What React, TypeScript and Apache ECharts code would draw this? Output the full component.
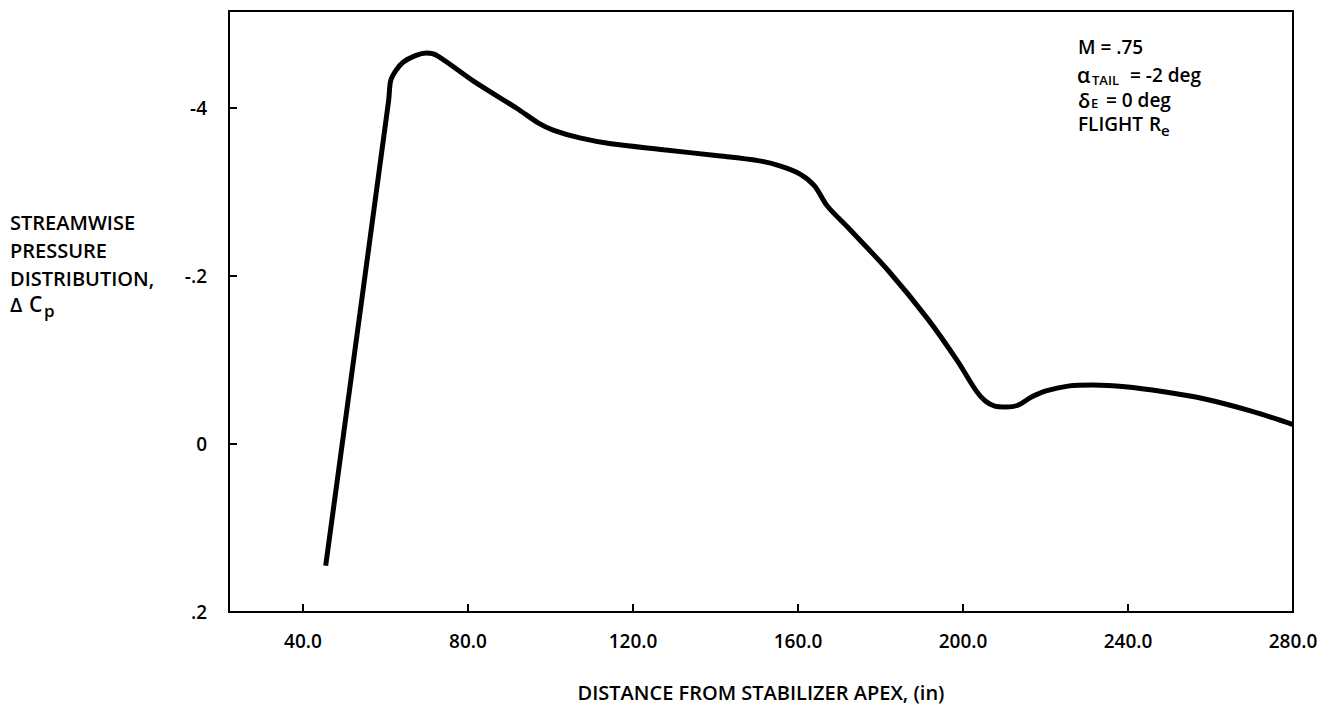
import React, { useEffect, useRef } from "react";
import * as echarts from "echarts";

// Distance from stabilizer apex (in)
const xValues = [
  45.5, 60.75, 61.25, 62.5, 64.25, 67.25, 70.0, 72.5, 81.8, 91.9, 97.0, 100.8,
  107.1, 114.7, 127.4, 140.1, 150.3, 155.4, 160.5, 164.0, 167.1, 172.4, 181.9,
  191.4, 198.6, 203.2, 205.4, 207.7, 210.4, 213.3, 216.7, 220.1, 225.8, 231.4,
  239.3, 248.7, 258.1, 269.9, 280.0,
];
// Streamwise pressure distribution, delta Cp
const cpValues = [
  0.145, -0.408, -0.432, -0.444, -0.454, -0.462, -0.465, -0.462, -0.43, -0.399,
  -0.382, -0.373, -0.364, -0.357, -0.35, -0.343, -0.337, -0.331, -0.321, -0.307,
  -0.283, -0.256, -0.206, -0.149, -0.099, -0.063, -0.051, -0.045, -0.044,
  -0.046, -0.056, -0.063, -0.069, -0.07, -0.068, -0.062, -0.054, -0.039, -0.023,
];
const xTicks = [40, 80, 120, 160, 200, 240, 280];
const yTicks = [-0.4, -0.2, 0, 0.2];
const yTickLabels: Record<string, string> = {
  "-0.4": "-4",
  "-0.2": "-.2",
  "0": "0",
  "0.2": ".2",
};

const FONT = "Open Sans";

export default function App() {
  const ref = useRef<HTMLDivElement>(null);
  useEffect(() => {
    if (!ref.current) return;
    const chart = echarts.init(ref.current, null, { renderer: "svg" });
    const data = xValues.map((x, i) => [x, cpValues[i]]);
    const txt = (text: string, x: number, y: number, size = 20) => ({
      type: "text",
      x,
      y,
      style: {
        text,
        fill: "#000",
        font: `600 ${size}px "${FONT}"`,
        lineHeight: Math.round(size * 0.9),
        textAlign: "left",
        textVerticalAlign: "middle",
      },
    });
    chart.setOption({
      animation: false,
      backgroundColor: "#fff",
      grid: {
        left: 229,
        right: 24,
        top: 11,
        bottom: 92,
        outerBoundsMode: "none",
        containLabel: false,
        show: true,
        borderColor: "#000",
        borderWidth: 2,
      },
      xAxis: {
        type: "value",
        min: 22.06,
        max: 280,
        axisLine: {
          show: true,
          onZero: false,
          lineStyle: { color: "#000", width: 2 },
        },
        axisTick: {
          show: true,
          inside: true,
          length: 8,
          customValues: xTicks,
          lineStyle: { color: "#000", width: 2 },
        },
        axisLabel: {
          customValues: xTicks,
          formatter: (v: number) => v.toFixed(1),
          color: "#000",
          fontFamily: FONT,
          fontWeight: 600,
          fontSize: 19,
          margin: 19,
        },
        splitLine: { show: false },
        name: "DISTANCE FROM STABILIZER APEX, (in)",
        nameLocation: "middle",
        nameGap: 70,
        nameTextStyle: {
          color: "#000",
          fontFamily: FONT,
          fontWeight: 600,
          fontSize: 20,
        },
      },
      yAxis: {
        type: "value",
        inverse: true,
        min: -0.515,
        max: 0.2,
        axisLine: {
          show: true,
          onZero: false,
          lineStyle: { color: "#000", width: 2 },
        },
        axisTick: {
          show: true,
          inside: true,
          length: 8,
          customValues: yTicks,
          lineStyle: { color: "#000", width: 2 },
        },
        axisLabel: {
          customValues: yTicks,
          formatter: (v: number) =>
            yTickLabels[String(Math.round(v * 10) / 10)] ?? "",
          color: "#000",
          fontFamily: FONT,
          fontWeight: 600,
          fontSize: 19,
          margin: 22,
        },
        splitLine: { show: false },
      },
      series: [
        {
          type: "line",
          data,
          smooth: 0.3,
          showSymbol: false,
          lineStyle: { color: "#000", width: 5 },
        },
      ],
      graphic: [
        txt("STREAMWISE", 10, 222, 20),
        txt("PRESSURE", 10, 250, 20),
        txt("DISTRIBUTION,", 10, 278, 20),
        txt("Δ", 10, 304, 20),
        txt("C", 29, 304, 21),
        txt("p", 44, 310, 17),
        txt("M = .75", 1078, 47, 19),
        txt("α", 1077, 75, 21),
        txt("TAIL", 1092, 80, 13),
        txt("= -2 deg", 1130, 75, 19),
        txt("δ", 1078, 100, 20),
        txt("E", 1091, 103, 13),
        txt("= 0 deg", 1106, 100, 19),
        txt("FLIGHT", 1078, 124, 19),
        txt("R", 1149, 124, 19),
        txt("e", 1161, 130, 15),
      ],
    });
    return () => chart.dispose();
  }, []);
  return (
    <div
      ref={ref}
      style={{ position: "fixed", left: 0, top: 0, width: 1317, height: 704 }}
    />
  );
}
